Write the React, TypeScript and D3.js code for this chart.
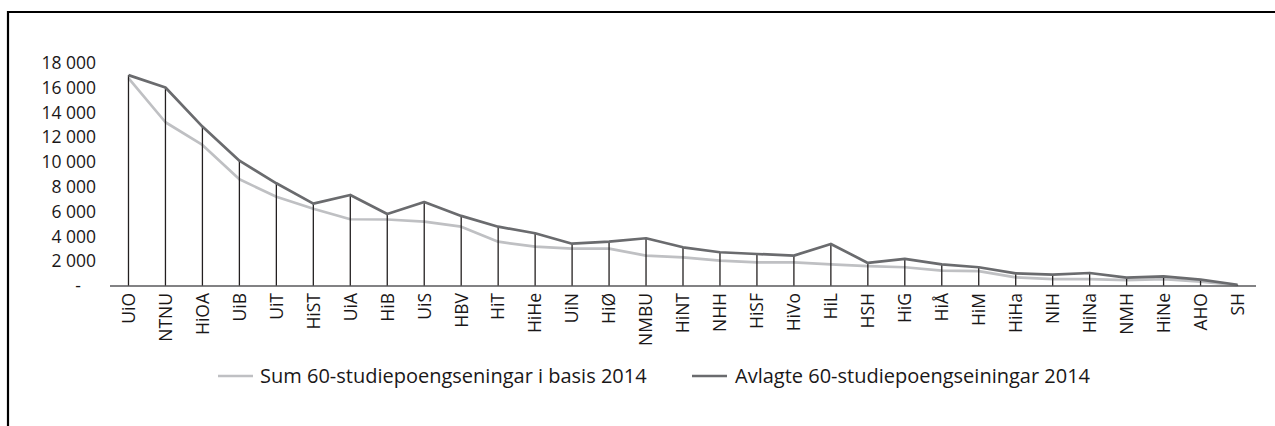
import React from "react";
import * as d3 from "d3";

const categories = ["UiO","NTNU","HiOA","UiB","UiT","HiST","UiA","HiB","UiS","HBV","HiT","HiHe","UiN","HiØ","NMBU","HiNT","NHH","HiSF","HiVo","HiL","HSH","HiG","HiÅ","HiM","HiHa","NIH","HiNa","NMH","HiNe","AHO","SH"];
const sumBasis = [16750,13200,11370,8600,7200,6230,5380,5360,5190,4780,3570,3170,3010,3010,2450,2310,2040,1910,1900,1750,1610,1510,1240,1200,700,560,560,480,560,350,60];
const avlagte = [17000,16000,12850,10100,8280,6640,7340,5800,6770,5650,4780,4250,3410,3570,3850,3120,2720,2580,2450,3390,1860,2180,1750,1510,1020,910,1050,670,780,510,100];
const yTicks = [0,2000,4000,6000,8000,10000,12000,14000,16000,18000];
const seriesNames = ["Sum 60-studiepoengseningar i basis 2014","Avlagte 60-studiepoengseiningar 2014"];

const W = 1275, H = 426;
const FONT = "'Open Sans', sans-serif";
const LIGHT = "#bfc0c3";
const DARK = "#6a6b6e";
const TEXT = "#1a1718";

export default function App() {
  const x = d3.scaleBand<string>().domain(categories).range([110, 1256]);
  const cx = (c: string) => (x(c) as number) + x.bandwidth() / 2;
  const y = d3.scaleLinear().domain([0, 18000]).range([286, 62.7]);
  const fmt = (v: number) => (v === 0 ? "-" : d3.format(",")(v).replace(",", " "));

  const line = d3.line<number>().x((_, i) => cx(categories[i])).y((d) => y(d));

  return (
    <svg width={W} height={H} style={{ position: "absolute", left: 0, top: 0, background: "#fff" }}>
      <line x1={8} y1={12} x2={W} y2={12} stroke="#000" strokeWidth={2.2} />
      <line x1={8} y1={11} x2={8} y2={H} stroke="#000" strokeWidth={2.2} />

      {yTicks.map((t) => (
        <text key={t} x={t === 0 ? 78 : 96} y={y(t)} dy="0.36em" textAnchor={t === 0 ? "middle" : "end"}
          fontFamily={FONT} fontSize={17.5} fill={TEXT}>{fmt(t)}</text>
      ))}

      <path d={line(sumBasis) || ""} fill="none" stroke={LIGHT} strokeWidth={2.7} strokeLinejoin="round" />

      {categories.map((c, i) => (
        <line key={c} x1={cx(c)} x2={cx(c)} y1={y(0)} y2={y(Math.max(avlagte[i], sumBasis[i]))}
          stroke="#231f20" strokeWidth={1.3} />
      ))}

      <path d={line(avlagte) || ""} fill="none" stroke={DARK} strokeWidth={2.7} strokeLinejoin="round" />

      <line x1={110} x2={1256} y1={y(0)} y2={y(0)} stroke="#58595b" strokeWidth={1.5} />

      {categories.map((c) => (
        <text key={c} transform={`translate(${cx(c)},293) rotate(-90)`} textAnchor="end" dy="0.36em"
          fontFamily={FONT} fontSize={17.5} fill={TEXT}>{c}</text>
      ))}

      <line x1={218} x2={253} y1={376} y2={376} stroke={LIGHT} strokeWidth={2.7} />
      <text x={260} y={383} fontFamily={FONT} fontSize={20} fill={TEXT}>{seriesNames[0]}</text>
      <line x1={692} x2={727} y1={376} y2={376} stroke={DARK} strokeWidth={2.7} />
      <text x={735} y={383} fontFamily={FONT} fontSize={20} fill={TEXT}>{seriesNames[1]}</text>
    </svg>
  );
}
